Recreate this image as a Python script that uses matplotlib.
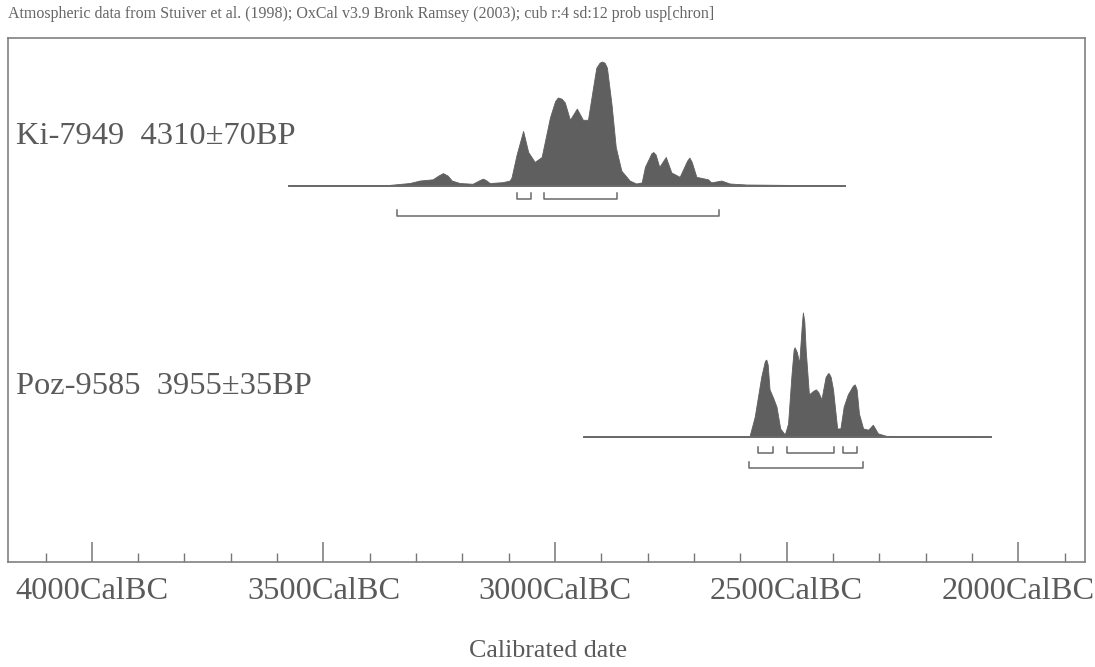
import numpy as np
import matplotlib
matplotlib.use("Agg")
import matplotlib.pyplot as plt
import matplotlib.transforms as mtransforms

# ---------------- data ----------------
header = ("Atmospheric data from Stuiver et al. (1998); OxCal v3.9 Bronk Ramsey (2003); "
          "cub r:4 sd:12 prob usp[chron]")
sample_labels = ["Ki-7949  4310\u00b170BP", "Poz-9585  3955\u00b135BP"]

# calibrated probability, years BC and relative density (max = 1)
ki_years = [3575, 3380, 3357, 3314, 3292, 3264, 3252, 3242, 3232, 3223, 3206, 3178, 3162,
            3156, 3150, 3141, 3113, 3098, 3094, 3083, 3069, 3058, 3044, 3029, 3011, 3000,
            2994, 2986, 2979, 2968, 2953, 2940, 2929, 2918, 2911, 2904, 2899, 2893, 2888,
            2878, 2869, 2857, 2839, 2825, 2813, 2806, 2792, 2788, 2783, 2775, 2761, 2749,
            2731, 2715, 2710, 2705, 2695, 2670, 2663, 2641, 2623, 2587, 2375]
ki_prob = [0.0, 0.0, 0.005, 0.02, 0.04, 0.05, 0.08, 0.10, 0.08, 0.04, 0.02, 0.014, 0.045,
           0.055, 0.045, 0.02, 0.027, 0.04, 0.065, 0.25, 0.44, 0.27, 0.19, 0.23, 0.55, 0.68,
           0.71, 0.70, 0.67, 0.53, 0.62, 0.53, 0.53, 0.79, 0.95, 0.99, 1.0, 0.99, 0.95,
           0.65, 0.31, 0.12, 0.04, 0.016, 0.025, 0.15, 0.26, 0.27, 0.25, 0.15, 0.23, 0.105,
           0.07, 0.20, 0.225, 0.19, 0.07, 0.05, 0.025, 0.04, 0.016, 0.008, 0.0]

poz_years = [2938, 2585, 2580, 2569, 2555, 2547, 2544, 2541, 2537, 2529, 2522, 2514, 2504,
             2497, 2490, 2485, 2483, 2478, 2473, 2467, 2465, 2462, 2459, 2452, 2442, 2437,
             2432, 2425, 2416, 2411, 2409, 2405, 2400, 2391, 2384, 2377, 2368, 2357, 2353,
             2349, 2344, 2335, 2324, 2314, 2303, 2285, 2060]
poz_prob = [0.0, 0.0, 0.005, 0.16, 0.48, 0.61, 0.62, 0.58, 0.38, 0.31, 0.24, 0.065, 0.016,
            0.105, 0.48, 0.70, 0.72, 0.68, 0.59, 0.92, 1.0, 0.93, 0.70, 0.34, 0.37, 0.38,
            0.36, 0.30, 0.48, 0.51, 0.51, 0.48, 0.38, 0.065, 0.065, 0.24, 0.34, 0.41, 0.42,
            0.38, 0.185, 0.065, 0.055, 0.095, 0.025, 0.005, 0.0]

# highest probability ranges, years BC
ki_1sigma = [(3083, 3052), (3024, 2867)]
ki_2sigma = [(3342, 2647)]
poz_1sigma = [(2562, 2530), (2500, 2398), (2379, 2349)]
poz_2sigma = [(2582, 2336)]

major_years = [4000, 3500, 3000, 2500, 2000]
major_labels = ["4000CalBC", "3500CalBC", "3000CalBC", "2500CalBC", "2000CalBC"]
minor_years = list(range(4100, 1800, -100))

# ---------------- style ----------------
TXT = "#5a5a5a"
FILL = "#5f5f5f"
LINE = "#6a6a6a"
serif = ["Liberation Serif", "DejaVu Serif"]

fig = plt.figure(figsize=(10.95, 6.67), dpi=100)
ax = fig.add_axes([8 / 1095, 1 - 562 / 667, 1077 / 1095, 524 / 667])
ax.set_xlim(-4181, -1856)
ax.set_ylim(0, 524)

for s in ax.spines.values():
    s.set_color("#808080")
    s.set_linewidth(1.2)

scale = 124.0
rows = [
    dict(years=ki_years, prob=ki_prob, base=376.5, s1=ki_1sigma, s2=ki_2sigma,
         y1=363, y2=346, label_y=426),
    dict(years=poz_years, prob=poz_prob, base=125.5, s1=poz_1sigma, s2=poz_2sigma,
         y1=109.5, y2=94, label_y=176),
]

tr = mtransforms.blended_transform_factory(ax.transAxes, ax.transData)
for r, lab in zip(rows, sample_labels):
    x = -np.asarray(r["years"], float)
    y = r["base"] + scale * np.asarray(r["prob"], float)
    ax.fill_between(x, r["base"], y, color=FILL, linewidth=0.6, edgecolor=FILL)
    ax.plot([x[0], x[-1]], [r["base"], r["base"]], color=LINE, lw=1.4)
    for rngs, yy in ((r["s1"], r["y1"]), (r["s2"], r["y2"])):
        for a, b in rngs:
            ax.plot([-a, -a, -b, -b], [yy + 6, yy, yy, yy + 6], color=LINE, lw=1.1)
    ax.text(8 / 1077, r["label_y"], lab, transform=tr, ha="left", va="center",
            fontsize=23.4, color=TXT, family=serif)

ax.set_xticks([-y for y in major_years])
ax.set_xticklabels(major_labels, family=serif, fontsize=23.3, color=TXT)
ax.set_xticks([-y for y in minor_years], minor=True)
ax.tick_params(axis="x", which="major", direction="in", length=14.5, width=1.1,
               color="#777777", pad=11)
ax.tick_params(axis="x", which="minor", direction="in", length=6.5, width=1.0,
               color="#777777")
ax.set_yticks([])

fig.text(8 / 1095, 1 - 14 / 667, header, ha="left", va="center", fontsize=11.5,
         color="#666666", family=serif)
fig.text(548 / 1095, 1 - 651 / 667, "Calibrated date", ha="center", va="center",
         fontsize=18.7, color=TXT, family=serif)

fig.savefig("out.png", dpi=100, facecolor="white")
